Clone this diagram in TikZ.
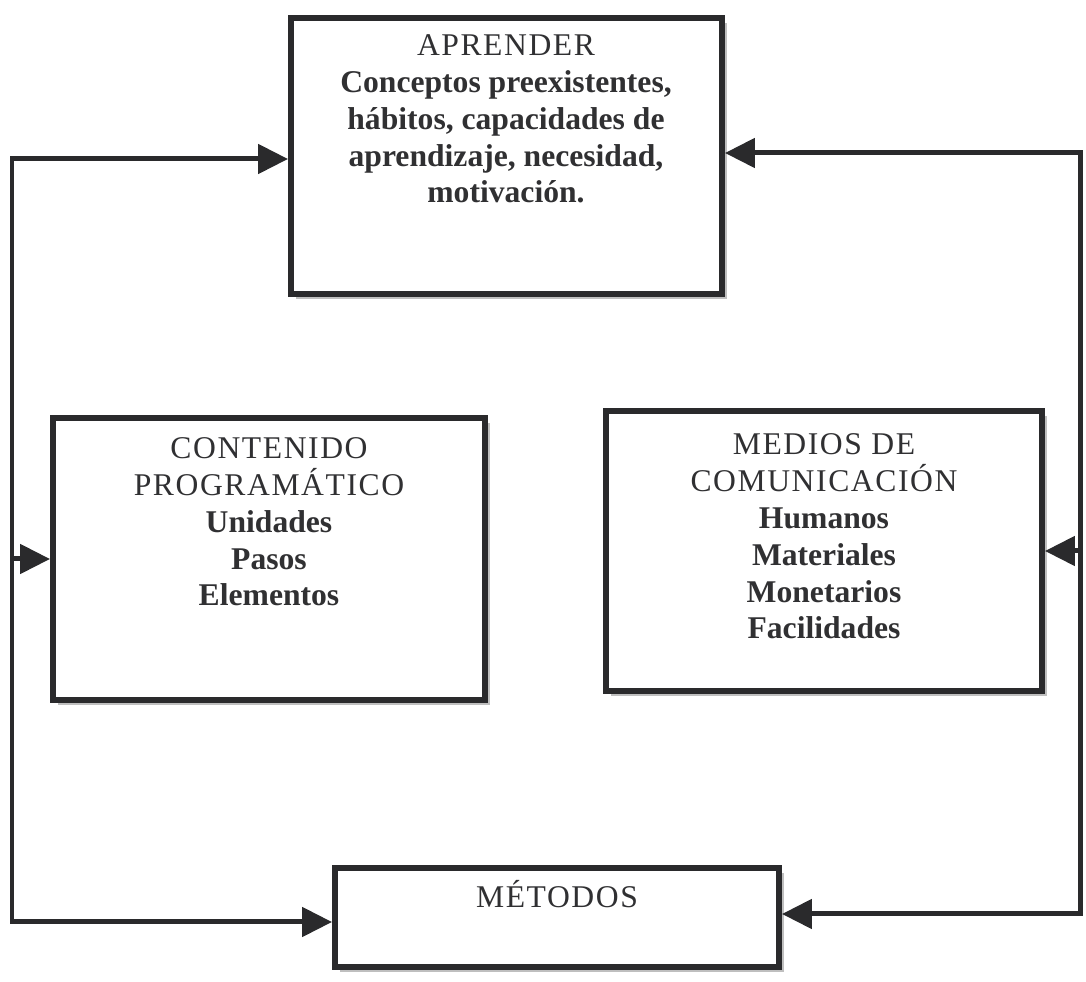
\documentclass[tikz,border=0pt]{standalone}
\usepackage{fontspec}
\setmainfont{Liberation Serif}
\newfontfamily\headfont{Liberation Serif}[LetterSpace=5]
\definecolor{LineGray}{RGB}{42, 42, 44}
\definecolor{InkGray}{RGB}{48, 48, 50}
\usetikzlibrary{arrows.meta, positioning, shadows}

\begin{document}
\begin{tikzpicture}[x=0.02cm, y=-0.02cm,
        >={Triangle[length=0.6cm, width=0.58cm]},
        box/.style={draw=LineGray, line width=0.12cm, fill=white, inner sep=0pt,
            drop shadow={shadow xshift=0.1cm, shadow yshift=-0.1cm, fill=gray!50, opacity=1}},
        boxtext/.style={anchor=base, align=center, inner sep=0pt, text=InkGray,
            font=\fontsize{18}{21}\selectfont\bfseries},
        flow/.style={draw=LineGray, line width=0.1cm}]
        \useasboundingbox (0,0) rectangle (1086,982);

        \node[box, minimum width=8.62cm, minimum height=5.52cm] (apr) at (506.5,156) {};
        \node[box, minimum width=8.64cm, minimum height=5.64cm] (con) at (269,559) {};
        \node[box, minimum width=8.72cm, minimum height=5.6cm] (med) at (824,551) {};
        \node[box, minimum width=8.88cm, minimum height=1.98cm] (met) at (557,917.5) {};

        \node[boxtext] (aprtext) at (506,203) {{\headfont\mdseries APRENDER}\\Conceptos preexistentes,\\hábitos, capacidades de\\aprendizaje, necesidad,\\motivación.};
        \node[boxtext] (context) at (269,606) {{\headfont\mdseries CONTENIDO}\\{\headfont\mdseries PROGRAMÁTICO}\\Unidades\\Pasos\\Elementos};
        \node[boxtext] (medtext) at (824,639) {{\headfont\mdseries MEDIOS DE}\\{\headfont\mdseries COMUNICACIÓN}\\Humanos\\Materiales\\Monetarios\\Facilidades};
        \node[boxtext] (mettext) at (557,908) {{\headfont\mdseries MÉTODOS}};

        \coordinate (lt) at (12,159);
        \coordinate (lb) at (12,922);
        \coordinate (rt) at (1080,153);
        \coordinate (rb) at (1080,914);

        \draw[flow, <->] (lt -| apr.west) -- (lt) -- (lb) -- (lb -| met.west);
        \draw[flow, ->] (lt |- con.west) -- (con.west);
        \draw[flow, <->] (rt -| apr.east) -- (rt) -- (rb) -- (rb -| met.east);
        \draw[flow, ->] (rt |- med.east) -- (med.east);
    \end{tikzpicture}
\end{document}
